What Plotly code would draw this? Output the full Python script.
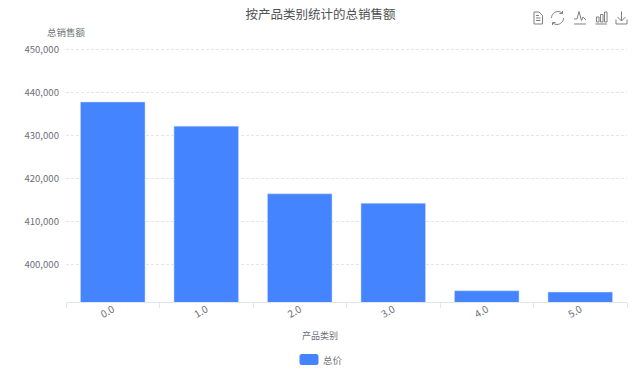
import plotly.graph_objects as go

categories = ["0.0", "1.0", "2.0", "3.0", "4.0", "5.0"]
total_sales = [437800, 432200, 416500, 414300, 394000, 393700]
y_ticks = [400000, 410000, 420000, 430000, 440000, 450000]
series_name = "总价"

W, H = 640, 372
L, R, T, B = 66, 627, 47, 302
FONT = "Noto Sans CJK SC, Open Sans, sans-serif"
BLUE = "#4584ff"
AXIS = "#dfe5f2"
TEXT = "#6e7079"


def px(x):
    return (x - L) / (R - L)


def py(y):
    return (B - y) / (B - T)


def path(points_cmds):
    out = []
    for c in points_cmds:
        if isinstance(c, str):
            out.append(c)
        else:
            out.append(f"{px(c[0]):.5f},{py(c[1]):.5f}")
    return " ".join(out)


def icon(cmds):
    return dict(type="path", xref="paper", yref="paper", path=path(cmds),
                line=dict(color="#808080", width=1), fillcolor="rgba(0,0,0,0)")


shapes = [
    # doc
    icon(["M", (534, 12), "L", (539, 12), "L", (542.5, 15.5), "L", (542.5, 24), "L", (534, 24), "Z"]),
    icon(["M", (536, 15.5), "L", (539, 15.5), "M", (536, 18), "L", (540.5, 18), "M", (536, 20.5), "L", (540.5, 20.5)]),
    # refresh
    icon(["M", (551.5, 18), "C", (551.5, 14), (555, 11.5), (558, 11.5), "C", (559.5, 11.5), (561, 12), (562, 13)]),
    icon(["M", (563.5, 18), "C", (563.5, 22), (560, 24.5), (557, 24.5), "C", (555.5, 24.5), (554, 24), (553, 23)]),
    icon(["M", (559.5, 13.5), "L", (562.5, 13.5), "L", (562.5, 11)]),
    icon(["M", (555.5, 22.5), "L", (552.5, 22.5), "L", (552.5, 25)]),
    # line
    icon(["M", (574, 19), "L", (577, 19), "L", (579, 11.5), "L", (581.5, 20.5), "L", (583, 17), "L", (586, 20)]),
    icon(["M", (574, 24), "L", (586, 24)]),
    # bars
    icon(["M", (595.5, 24), "L", (607, 24)]),
    icon(["M", (596.5, 22), "L", (596.5, 17), "L", (599, 17), "L", (599, 22), "Z"]),
    icon(["M", (600.5, 22), "L", (600.5, 14.5), "L", (603, 14.5), "L", (603, 22), "Z"]),
    icon(["M", (604.5, 22), "L", (604.5, 12), "L", (607, 12), "L", (607, 22), "Z"]),
    # download
    icon(["M", (621.5, 11.5), "L", (621.5, 21), "M", (617.5, 17), "L", (621.5, 21), "L", (625.5, 17)]),
    icon(["M", (616, 19.5), "L", (616, 24), "L", (627, 24), "L", (627, 19.5)]),
    # legend swatch
    dict(type="path", xref="paper", yref="paper", line=dict(width=0), fillcolor=BLUE,
         path=path(["M", (302, 354), "L", (316, 354), "Q", (318.5, 354), (318.5, 356.5), "L", (318.5, 362.5),
                    "Q", (318.5, 365), (316, 365), "L", (302, 365), "Q", (299.5, 365), (299.5, 362.5),
                    "L", (299.5, 356.5), "Q", (299.5, 354), (302, 354), "Z"])),
]

fig = go.Figure(go.Bar(x=categories, y=total_sales, name=series_name,
                       marker=dict(color=BLUE, line=dict(color="#c9dbff", width=0.5)), showlegend=False))

fig.update_layout(
    width=W, height=H, paper_bgcolor="white", plot_bgcolor="white",
    margin=dict(l=L, r=W - R, t=T, b=H - B, pad=0, autoexpand=False),
    bargap=0.31, showlegend=False,
    font=dict(family=FONT, color=TEXT, size=10),
    title=dict(text="按产品类别统计的总销售额", x=320.5 / W, xanchor="center", y=1 - 14.5 / H, yanchor="middle",
               font=dict(size=12.5, color="#505050", family=FONT)),
    xaxis=dict(type="category", tickson="boundaries", ticks="outside", ticklen=5, tickcolor=AXIS,
               showline=True, linecolor=AXIS, linewidth=1, showgrid=False, tickangle=-30, ticklabelstandoff=-3,
               tickfont=dict(size=10, color=TEXT)),
    yaxis=dict(range=[391400, 450570], tickvals=y_ticks, tickformat=",", ticks="", showline=False, zeroline=False,
               showgrid=True, gridcolor=AXIS, griddash="3px,2px", gridwidth=1, ticklabelstandoff=6,
               tickfont=dict(size=9.6, color=TEXT)),
    shapes=shapes,
    annotations=[
        dict(text="总销售额", xref="paper", yref="paper", x=px(66), y=py(32), xanchor="center", yanchor="middle",
             showarrow=False, font=dict(size=9.5, color=TEXT)),
        dict(text="产品类别", xref="paper", yref="paper", x=px(320), y=py(335), xanchor="center", yanchor="middle",
             showarrow=False, font=dict(size=9, color=TEXT)),
        dict(text=series_name, xref="paper", yref="paper", x=px(321), y=py(359.5), xanchor="left", yanchor="middle",
             showarrow=False, font=dict(size=9.5, color=TEXT)),
    ],
)
fig.write_html("out.html", config=dict(displayModeBar=False),
               post_script="document.body.style.margin='0';")
